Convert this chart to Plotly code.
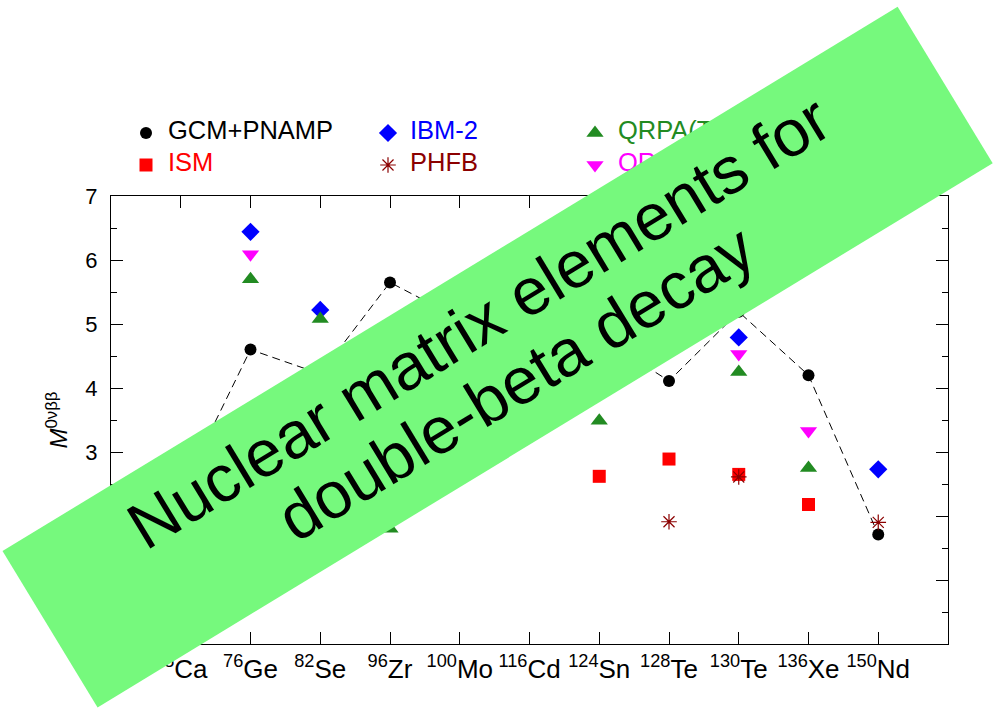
import math
import plotly.graph_objects as go

# ---------------- data ----------------
nuclei = ["48Ca", "76Ge", "82Se", "96Zr", "100Mo", "116Cd", "124Sn", "128Te", "130Te", "136Xe", "150Nd"]
tick_labels = ["<sup>48</sup>Ca", "<sup>76</sup>Ge", "<sup>82</sup>Se", "<sup>96</sup>Zr", "<sup>100</sup>Mo",
               "<sup>116</sup>Cd", "<sup>124</sup>Sn", "<sup>128</sup>Te", "<sup>130</sup>Te",
               "<sup>136</sup>Xe", "<sup>150</sup>Nd"]

gcm_nuclei = nuclei
gcm_values = [2.37, 4.60, 4.22, 5.65, 5.08, 4.72, 4.81, 4.11, 5.19, 4.20, 1.71]

ism_nuclei = ["48Ca", "76Ge", "82Se", "124Sn", "128Te", "130Te", "136Xe"]
ism_values = [0.85, 2.81, 2.64, 2.62, 2.89, 2.65, 2.18]

ibm_nuclei = ["76Ge", "82Se", "100Mo", "116Cd", "128Te", "130Te", "150Nd"]
ibm_values = [6.44, 5.22, 4.40, 3.28, 5.29, 4.79, 2.73]

phfb_nuclei = ["96Zr", "100Mo", "128Te", "130Te", "150Nd"]
phfb_values = [2.60, 5.20, 1.91, 2.61, 1.90]

qrpa_tu_nuclei = ["76Ge", "82Se", "96Zr", "100Mo", "116Cd", "124Sn", "128Te", "130Te", "136Xe"]
qrpa_tu_values = [5.70, 5.08, 1.80, 4.75, 3.52, 3.49, 4.93, 4.25, 2.75]

qrpa_jy_nuclei = ["76Ge", "100Mo", "116Cd", "128Te", "130Te", "136Xe"]
qrpa_jy_values = [6.09, 4.60, 4.20, 4.80, 4.53, 3.33]

y_ticks = [0, 1, 2, 3, 4, 5, 6, 7]

banner_lines = ["Nuclear matrix elements for", "double-beta decay"]

# ---------------- styles ----------------
FONT = "Liberation Sans, Arial, Helvetica, sans-serif"
NARROW = "Liberation Sans Narrow, Arial Narrow, Liberation Sans, sans-serif"
W, H = 999, 708
ml, mr, mt, mb = 111, 51, 100, 64
pw, ph = W - ml - mr, H - mt - mb
plot_top_px = 196
main_top = (H - mb - plot_top_px) / ph


def px2paper(x, y):
    return (x - ml) / pw, (H - mb - y) / ph


series = [
    dict(name="GCM+PNAMP", x=gcm_nuclei, y=gcm_values, symbol="circle", size=12, color="black",
         tcolor="black", line=True),
    dict(name="ISM", x=ism_nuclei, y=ism_values, symbol="square", size=13, color="#ff0000",
         tcolor="#ff0000", line=False),
    dict(name="IBM-2", x=ibm_nuclei, y=ibm_values, symbol="diamond", size=14, color="#0000ff",
         tcolor="#0000ff", line=False),
    dict(name="PHFB", x=phfb_nuclei, y=phfb_values, symbol="asterisk-open", size=13, color="#8b0000",
         tcolor="#8b0000", line=False),
    dict(name="QRPA(Tü)", x=qrpa_tu_nuclei, y=qrpa_tu_values, symbol="triangle-up", size=15,
         color="#228b22", tcolor="#228b22", line=False),
    dict(name="QRPA(Jy)", x=qrpa_jy_nuclei, y=qrpa_jy_values, symbol="triangle-down", size=15,
         color="#ff00ff", tcolor="#ff00ff", line=False),
]

fig = go.Figure()
for s in series:
    marker = dict(symbol=s["symbol"], size=s["size"], color=s["color"])
    if s["symbol"].endswith("open"):
        marker["line"] = dict(color=s["color"], width=1.2)
    else:
        marker["line"] = dict(width=0)
    fig.add_trace(go.Scatter(
        x=s["x"], y=s["y"], name=s["name"],
        mode="lines+markers" if s["line"] else "markers",
        line=dict(color="black", width=1, dash="8px,5px"),
        marker=marker, showlegend=False, cliponaxis=False,
        xaxis="x", yaxis="y"))

# ---- legend drawn in an overlay subplot (so the banner can cover it) ----
legend_order = ["GCM+PNAMP", "ISM", "IBM-2", "PHFB", "QRPA(Tü)", "QRPA(Jy)"]
legend_marker_x = [146, 146, 388, 388, 595, 595]
legend_text_x = [168, 168, 410, 410, 618, 618]
legend_row = [0, 1, 0, 1, 0, 1]
by_name = {s["name"]: s for s in series}
for i, nm in enumerate(legend_order):
    s = by_name[nm]
    marker = dict(symbol=s["symbol"], size=s["size"], color=s["color"])
    if s["symbol"].endswith("open"):
        marker["line"] = dict(color=s["color"], width=1.2)
    else:
        marker["line"] = dict(width=0)
    fig.add_trace(go.Scatter(x=[legend_marker_x[i]], y=[legend_row[i]], mode="markers",
                             marker=marker, showlegend=False, xaxis="x2", yaxis="y2",
                             hoverinfo="skip", cliponaxis=False))
    fig.add_trace(go.Scatter(x=[legend_text_x[i]], y=[legend_row[i]], mode="text", text=[nm],
                             textposition="middle right",
                             textfont=dict(family=FONT, size=25.5, color=s["tcolor"]),
                             showlegend=False, xaxis="x2", yaxis="y2", hoverinfo="skip",
                             cliponaxis=False))

# ---- banner ----
cx, cy = 497.6, 357.1
L, Wd = 1047.6, 183
ang = math.radians(31.3)
ux, uy = math.cos(ang), -math.sin(ang)
nx, ny = math.sin(ang), math.cos(ang)
corners = []
for sa, sb in [(-1, -1), (1, -1), (1, 1), (-1, 1)]:
    corners.append(px2paper(cx + sa * L / 2 * ux + sb * Wd / 2 * nx,
                            cy + sa * L / 2 * uy + sb * Wd / 2 * ny))
path = "M " + " L ".join(f"{a:.5f},{b:.5f}" for a, b in corners) + " Z"
fig.add_shape(type="path", path=path, xref="paper", yref="paper",
              fillcolor="rgb(118,249,125)", line=dict(width=0), layer="above")

text_offsets = [(2, -40), (2, 31)]
for txt, (al, no) in zip(banner_lines, text_offsets):
    px_, py_ = cx + al * ux + no * nx, cy + al * uy + no * ny
    xp, yp = px2paper(px_, py_)
    fig.add_annotation(x=xp, y=yp, xref="paper", yref="paper", text=txt, showarrow=False,
                       textangle=-31.3, xanchor="center", yanchor="middle",
                       font=dict(family=FONT, size=66, color="black"))

fig.update_layout(
    width=W, height=H,
    margin=dict(l=ml, r=mr, t=mt, b=mb, autoexpand=False),
    paper_bgcolor="white", plot_bgcolor="white",
    showlegend=False,
    font=dict(family=FONT, color="black"),
    xaxis=dict(type="category", categoryorder="array", categoryarray=nuclei,
               range=[-1, len(nuclei)], tickmode="array", tickvals=nuclei, ticktext=tick_labels,
               ticks="inside", ticklen=12, tickwidth=1, tickcolor="black", tickangle=0,
               showline=True, linecolor="black", linewidth=1, mirror="ticks",
               showgrid=False, zeroline=False, anchor="y", automargin=False,
               tickfont=dict(family=NARROW, size=26, color="black"), ticklabelstandoff=2),
    yaxis=dict(domain=[0, main_top], range=[0, 7], tickmode="array", tickvals=y_ticks,
               ticks="inside", ticklen=12, tickwidth=1, tickcolor="black",
               minor=dict(ticks="inside", ticklen=6, dtick=0.5, tickcolor="black", showgrid=False),
               showline=True, linecolor="black", linewidth=1, mirror="ticks",
               showgrid=False, zeroline=False, anchor="x", automargin=False,
               tickfont=dict(family=FONT, size=22, color="black"), ticklabelstandoff=8,
               title=dict(text="<i>M</i><sup>0νββ</sup>", font=dict(family=FONT, size=24),
                          standoff=10)),
    xaxis2=dict(domain=[0, 1], range=[ml, W - mr], visible=False, anchor="y2", fixedrange=True),
    yaxis2=dict(domain=[main_top, 1], range=[1.96875, -1.03125], visible=False, anchor="x2",
                fixedrange=True),
)

fig.write_html("out.html")
